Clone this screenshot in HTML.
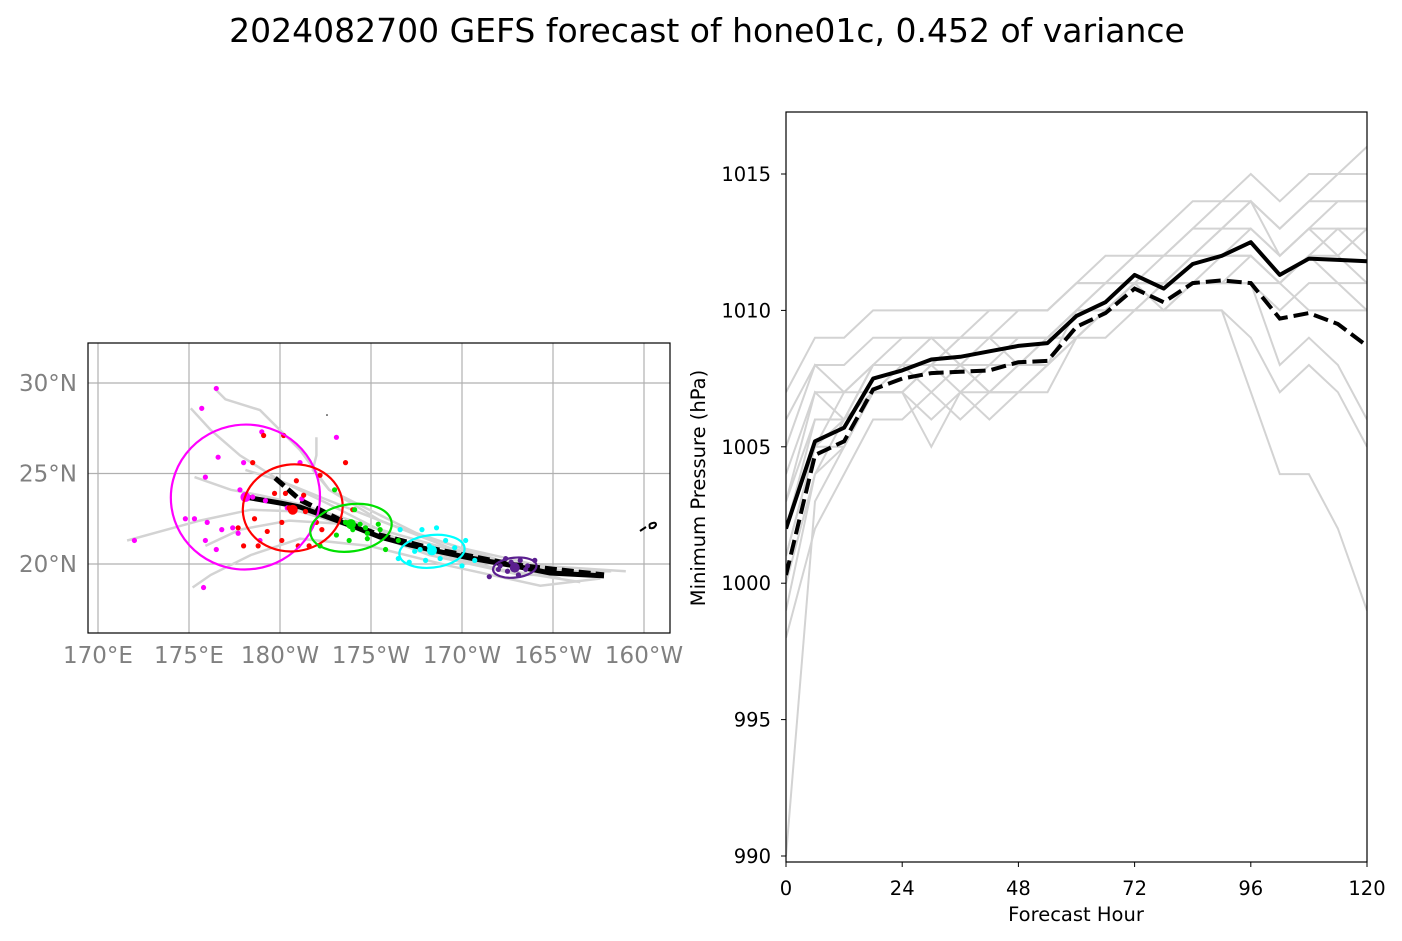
<!DOCTYPE html>
<html><head><meta charset="utf-8"><style>
body{margin:0;background:#fff;}
svg{display:block;font-family:"DejaVu Sans","Liberation Sans",sans-serif;}
</style></head><body>
<svg id="fig" width="1402" height="941" viewBox="0 0 1402 941">
<rect width="1402" height="941" fill="#fff"/>
<text x="707" y="42" text-anchor="middle" font-size="33">2024082700 GEFS forecast of hone01c, 0.452 of variance</text>
<g id="map"></g>
<g id="pc"></g>
</svg>
<script>
// ---------- pressure chart data ----------
const hours=[0,6,12,18,24,30,36,42,48,54,60,66,72,78,84,90,96,102,108,114,120];
const yTicks=[990,995,1000,1005,1010,1015];
const xTicks=[0,24,48,72,96,120];
const meanP=[1002,1005.2,1005.7,1007.5,1007.8,1008.2,1008.3,1008.5,1008.7,1008.8,1009.8,1010.3,1011.3,1010.8,1011.7,1012.0,1012.5,1011.3,1011.9,1011.85,1011.8];
const recon=[1000.3,1004.7,1005.2,1007.1,1007.5,1007.7,1007.75,1007.8,1008.1,1008.15,1009.4,1009.9,1010.8,1010.3,1011.0,1011.1,1011.0,1009.7,1009.9,1009.5,1008.7];
const m1=[1007,1009,1009,1010,1010,1010,1010,1010,1010,1010,1011,1012,1012,1013,1014,1014,1015,1014,1015,1015,1016];
const m2=[1006,1008,1008,1009,1009,1009,1009,1009,1010,1010,1011,1011,1012,1012,1013,1014,1014,1013,1014,1015,1015];
const m3=[1004,1007,1007,1008,1008,1008,1009,1009,1009,1009,1010,1011,1011,1012,1012,1013,1013,1012,1013,1014,1014];
const m4=[1003,1006,1006,1007,1007,1008,1008,1008,1008,1009,1009,1010,1011,1011,1012,1012,1012,1011,1012,1013,1013];
const m5=[1001,1005,1005,1007,1008,1008,1007,1008,1008,1008,1009,1010,1010,1010,1011,1011,1011,1011,1010,1010,1010];
const m6=[1000,1004,1005,1007,1007,1006,1007,1007,1007,1008,1009,1010,1010,1010,1010,1010,1009,1007,1008,1007,1005];
const m7=[998,1002,1004,1006,1006,1007,1006,1007,1007,1007,1009,1009,1010,1010,1010,1010,1007,1004,1004,1002,999];
const m8=[990,1003,1005,1007,1007,1005,1007,1006,1007,1008,1009,1010,1011,1010,1011,1011,1011,1008,1009,1008,1006];
const m9=[1002,1006,1006,1008,1008,1008,1008,1007,1008,1008,1010,1010,1011,1011,1012,1012,1013,1012,1013,1013,1012];
const m10=[1005,1008,1007,1008,1009,1009,1009,1010,1010,1010,1011,1011,1012,1012,1013,1013,1014,1013,1014,1014,1014];
const m11=[999,1004,1006,1008,1008,1009,1008,1008,1009,1009,1010,1010,1011,1011,1011,1012,1012,1011,1012,1012,1013];
const m12=[1001,1005,1006,1007,1007,1008,1009,1009,1008,1009,1010,1011,1011,1011,1011,1011,1011,1010,1011,1011,1011];
const m13=[1003,1007,1006,1008,1008,1007,1008,1009,1009,1009,1010,1010,1010,1011,1012,1013,1014,1012,1013,1012,1011];
const m14=[1002,1005,1007,1007,1008,1009,1008,1007,1008,1009,1009,1010,1010,1011,1011,1011,1012,1011,1012,1011,1010];
const members=[m1,m2,m3,m4,m5,m6,m7,m8,m9,m10,m11,m12,m13,m14];

// ---------- map data (lon in 0-360, lat) ----------
const lonTicks=[170,175,180,185,190,195,200];
const lonLabels=["170°E","175°E","180°W","175°W","170°W","165°W","160°W"];
const latTicks=[20,25,30];
const latLabels=["20°N","25°N","30°N"];
const tr1=[[176.4,29.7],[177.0,29.1],[178.9,28.5],[179.7,27.7],[181.1,26.3],[182.7,24.1],[185.5,22.4],[189.3,20.9],[194.3,19.6],[198.2,19.6]];
const tr2=[[175.1,28.6],[176.2,27.4],[177.8,26.0],[180,24.6],[182.7,23.3],[186.6,21.3],[191.0,20.1],[197.6,19.4]];
const tr3=[[171.6,21.3],[175.6,22.4],[178.4,23.0],[181.1,22.9],[184.4,21.9],[188.2,20.5],[193.2,19.4],[197.6,19.4]];
const tr4=[[175.2,18.7],[176.2,19.4],[178.4,20.5],[181.1,21.4],[184.9,21.0],[189.3,19.9],[194.3,18.8],[197.6,19.2]];
const tr5=[[182.0,27.0],[182.0,26.0],[181.8,25.2],[182.7,24.1],[184.9,23.0],[187.7,21.6],[192.1,20.2],[197.0,19.4]];
const tr6=[[175.3,24.8],[177.3,24.1],[178.9,23.8],[181.1,23.3],[185.5,21.9],[190.4,20.5],[195.4,19.2]];
const tr7=[[175.9,21.0],[177.8,21.9],[180.5,22.4],[183.8,22.2],[187.7,20.8],[192.1,19.7],[196.5,19.0]];
const tr8=[[178.1,25.2],[180,24.6],[182.7,23.5],[186.0,22.2],[189.9,20.9],[194.3,19.9],[199.0,19.6]];
const grayTracks=[tr1,tr2,tr3,tr4,tr5,tr6,tr7,tr8];
const meanTrack=[[178.08,23.7],[180,23.37],[181.1,23.15],[182.75,22.54],[184.12,22.04],[185.49,21.49],[187.14,21.05],[188.35,20.77],[190.44,20.33],[192.91,19.89],[194.84,19.5],[197.8,19.34]];
const reconTrack=[[179.73,24.75],[181.1,23.54],[183.3,22.43],[185.49,21.6],[188.35,20.85],[192.91,19.95],[197.8,19.4]];
const magentaDots=[[176.5,29.7],[175.7,28.6],[179.0,27.3],[178.0,25.6],[175.9,24.8],[176.6,25.9],[175.3,22.5],[176.0,22.3],[174.8,22.5],[176.8,21.9],[175.9,21.3],[177.4,22.0],[176.5,20.8],[177.7,21.7],[172.0,21.3],[175.8,18.7],[177.8,24.1],[178.5,23.7],[183.1,27.0],[180.4,23.1],[181.2,23.6],[181.1,25.6],[178.9,21.3],[179.2,23.5]];
const redDots=[[179.1,27.1],[180.2,27.1],[178.5,25.6],[183.6,25.6],[182.2,24.9],[180.9,24.6],[179.7,23.9],[180.3,23.9],[181.3,23.8],[180.5,23.1],[181.4,22.9],[182.0,22.3],[178.6,22.5],[180.1,22.3],[179.3,21.8],[177.7,22.0],[180.1,21.3],[181.0,21.0],[178.8,21.0],[182.3,21.9],[184.0,23.0],[178.0,21.0],[181.6,21.0]];
const greenDots=[[183.0,24.1],[184.1,23.0],[185.5,21.9],[184.7,22.0],[183.6,22.3],[184.8,21.7],[183.8,21.3],[183.1,21.6],[185.8,20.8],[182.2,21.0],[184.4,22.2],[186.5,21.3],[184.8,21.4],[185.4,22.2],[184.0,21.9]];
const cyanDots=[[186.6,21.9],[187.8,21.9],[188.6,22.0],[189.1,21.3],[188.2,21.0],[187.4,20.7],[187.1,20.1],[188.0,20.2],[188.8,20.3],[189.6,20.9],[190.0,19.9],[190.2,21.3],[190.7,20.2],[186.5,20.3],[187.7,20.8]];
const purpleDots=[[192.4,20.3],[192.7,20.1],[193.2,20.2],[193.6,19.9],[192.0,19.7],[192.5,19.6],[193.1,19.4],[193.5,19.7],[191.5,19.3],[194.0,20.2],[192.1,19.9],[192.9,19.8]];
const ellCenters=[[178.1,23.7],[180.7,23.1],[183.9,22.0],[188.35,20.7],[192.9,19.8]];
const ellRadii=[[4.1,4.0],[2.75,2.4],[2.25,1.3],[1.8,0.9],[1.2,0.55]];
const bigDots=[[178.1,23.7],[180.7,23.0],[183.9,22.2],[188.35,20.75],[192.9,19.8]];

const NS="http://www.w3.org/2000/svg";
function mk(parent,tag,attrs){const e=document.createElementNS(NS,tag);for(const k in attrs)e.setAttribute(k,attrs[k]);parent.appendChild(e);return e;}

// ---------- pressure chart ----------
const pc=document.getElementById('pc');
const PX0=786,PX1=1367,PY0=112,PY1=862;
const px=h=>PX0+(h/120)*(PX1-PX0);
const py=v=>174+(1015-v)*(856-174)/25;
function pline(arr){return arr.map((v,i)=>px(hours[i]).toFixed(1)+','+py(v).toFixed(1)).join(' ');}
const clip=mk(pc,'clipPath',{id:'pclip'});mk(clip,'rect',{x:PX0,y:PY0,width:PX1-PX0,height:PY1-PY0});
const pg=mk(pc,'g',{'clip-path':'url(#pclip)'});
members.forEach((m,i)=>{const l=mk(pg,'polyline',{points:pline(m),fill:'none',stroke:'#d3d3d3','stroke-width':2});

});
const ml=mk(pg,'polyline',{points:pline(meanP),fill:'none',stroke:'#000','stroke-width':4,'stroke-linejoin':'round'});


const rl=mk(pg,'polyline',{points:pline(recon),fill:'none',stroke:'#000','stroke-width':4,'stroke-dasharray':'15,6'});


const pframe=mk(pc,'rect',{x:PX0,y:PY0,width:PX1-PX0,height:PY1-PY0,fill:'none',stroke:'#000','stroke-width':1.2});


yTicks.forEach(v=>{const y=py(v);mk(pc,'line',{x1:PX0-5,x2:PX0,y1:y,y2:y,stroke:'#000'});
const t=mk(pc,'text',{x:PX0-15,y:y+7,'text-anchor':'end','font-size':19.5});t.textContent=v;

});
xTicks.forEach(h=>{const x=px(h);mk(pc,'line',{x1:x,x2:x,y1:PY1,y2:PY1+5,stroke:'#000'});
const t=mk(pc,'text',{x:x,y:895,'text-anchor':'middle','font-size':19.5});t.textContent=h;

});
const xt=mk(pc,'text',{x:1076,y:921,'text-anchor':'middle','font-size':19.5});xt.textContent='Forecast Hour';


const yt=mk(pc,'text',{x:0,y:0,'text-anchor':'middle','font-size':19.5,transform:'translate(705,488) rotate(-90)'});yt.textContent='Minimum Pressure (hPa)';



// ---------- map ----------
const mp=document.getElementById('map');
const MX0=88,MX1=670,MY0=343,MY1=633;
const mx=lon=>280+(lon-180)*18.2;
const my=lat=>564-(lat-20)*18.1;
const mc=mk(mp,'clipPath',{id:'mclip'});mk(mc,'rect',{x:MX0,y:MY0,width:MX1-MX0,height:MY1-MY0});
const mg=mk(mp,'g',{'clip-path':'url(#mclip)'});
lonTicks.forEach(l=>mk(mg,'line',{x1:mx(l),x2:mx(l),y1:MY0,y2:MY1,stroke:'#b0b0b0','stroke-width':1.2}));
latTicks.forEach(l=>mk(mg,'line',{x1:MX0,x2:MX1,y1:my(l),y2:my(l),stroke:'#b0b0b0','stroke-width':1.2}));
const tp=t=>t.map(p=>mx(p[0]).toFixed(1)+','+my(p[1]).toFixed(1)).join(' ');
grayTracks.forEach((t,i)=>{const l=mk(mg,'polyline',{points:tp(t),fill:'none',stroke:'#d3d3d3','stroke-width':2.5});

});
const mt=mk(mg,'polyline',{points:tp(meanTrack),fill:'none',stroke:'#000','stroke-width':5});


const rt=mk(mg,'polyline',{points:tp(reconTrack),fill:'none',stroke:'#000','stroke-width':5,'stroke-dasharray':'12,5'});


const dotSets=[[magentaDots,'#ff00ff','magenta'],[redDots,'#ff0000','red'],[greenDots,'#00e000','green'],[cyanDots,'#00ffff','cyan'],[purpleDots,'#5b1f8f','purple']];
const colors=['#ff00ff','#ff0000','#00e000','#00ffff','#5b1f8f'];
dotSets.forEach(([ds,c,n])=>{ds.forEach(p=>{const d=mk(mg,'circle',{cx:mx(p[0]),cy:my(p[1]),r:2.6,fill:c});

});});
ellCenters.forEach((c,i)=>{const e=mk(mg,'ellipse',{cx:mx(c[0]),cy:my(c[1]),rx:ellRadii[i][0]*18.2,ry:ellRadii[i][1]*18.1,fill:'none',stroke:colors[i],'stroke-width':2.2,transform:`rotate(${i<3?-8:-6} ${mx(c[0])} ${my(c[1])})`});


const b=mk(mg,'circle',{cx:mx(bigDots[i][0]),cy:my(bigDots[i][1]),r:5,fill:colors[i]});

});
mk(mg,'path',{d:'M640,531 L646,527 M650,524 q6,-3 6,1 q-2,4 -6,3 q-1,-3 0,-4',fill:'none',stroke:'#000','stroke-width':2});
mk(mg,'circle',{cx:327,cy:415,r:0.8,fill:'#000'});
const mframe=mk(mp,'rect',{x:MX0,y:MY0,width:MX1-MX0,height:MY1-MY0,fill:'none',stroke:'#000','stroke-width':1.2});


lonTicks.forEach((l,i)=>{const t=mk(mp,'text',{x:mx(l),y:663,'text-anchor':'middle','font-size':23,fill:'#808080'});t.textContent=lonLabels[i];

});
latTicks.forEach((l,i)=>{const t=mk(mp,'text',{x:77,y:my(l)+8,'text-anchor':'end','font-size':23,fill:'#808080'});t.textContent=latLabels[i];

});
</script>
</body></html>
